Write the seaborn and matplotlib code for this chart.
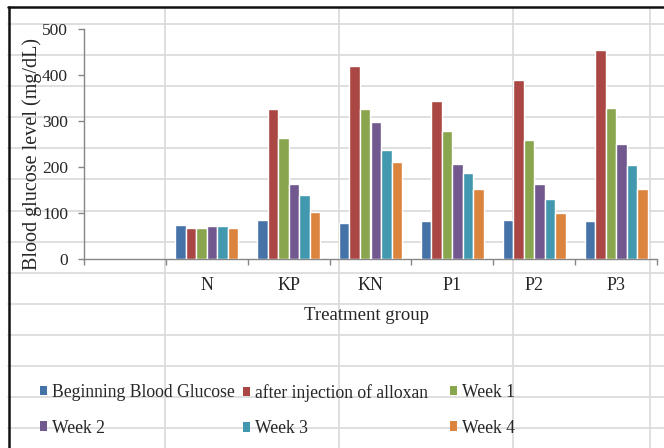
import numpy as np
import pandas as pd
import matplotlib
matplotlib.use("Agg")
import matplotlib.pyplot as plt
from matplotlib.lines import Line2D
from matplotlib.patches import Patch
import seaborn as sns

# ---- data ----
groups = ["N", "KP", "KN", "P1", "P2", "P3"]
series = ["Beginning Blood Glucose", "after injection of alloxan",
          "Week 1", "Week 2", "Week 3", "Week 4"]
beginning = [75, 85, 79, 82, 85, 82]
after_alloxan = [68, 325, 420, 343, 390, 454]
week1 = [68, 264, 325, 278, 258, 329]
week2 = [72, 164, 298, 207, 164, 251]
week3 = [72, 140, 238, 187, 130, 204]
week4 = [68, 103, 210, 153, 99, 153]
colors = ["#4572A7", "#AA4643", "#89A54E", "#71588F", "#4198AF", "#DB843D"]
y_ticks = [0, 100, 200, 300, 400, 500]

values = [beginning, after_alloxan, week1, week2, week3, week4]
rows = []
for s, vals in zip(series, values):
    for g, v in zip(groups, vals):
        rows.append({"group": g, "series": s, "value": v})
df = pd.DataFrame(rows)
order = [""] + groups

sns.set_style("white")
plt.rcParams["font.family"] = ["Liberation Serif", "DejaVu Serif"]

W, H = 664, 448
fig = plt.figure(figsize=(W / 100, H / 100), dpi=100)
fig.patch.set_facecolor("white")

# spreadsheet background grid
grid_c = "#D9D9D9"
for y in np.arange(24, 440, 31.1):
    fig.add_artist(Line2D([8 / W, 1], [1 - y / H, 1 - y / H], color=grid_c,
                          lw=1.2, zorder=-2, transform=fig.transFigure))
for x in [165, 339, 513, 650]:
    fig.add_artist(Line2D([x / W, x / W], [0, 1 - 8 / H], color=grid_c,
                          lw=1.2, zorder=-2, transform=fig.transFigure))
# black screenshot border (left and top)
fig.add_artist(Line2D([8.5 / W, 8.5 / W], [0, 1 - 7 / H], color="#111111",
                      lw=1.8, zorder=-1, transform=fig.transFigure))
fig.add_artist(Line2D([8 / W, 1], [1 - 7 / H, 1 - 7 / H], color="#111111",
                      lw=1.8, zorder=-1, transform=fig.transFigure))

ax_l, ax_r, ax_t, ax_b = 84, 657, 29, 259
ax = fig.add_axes([ax_l / W, 1 - ax_b / H, (ax_r - ax_l) / W, (ax_b - ax_t) / H])
ax.patch.set_alpha(0)

sns.barplot(data=df, x="group", y="value", hue="series", order=order,
            hue_order=series, palette=colors, width=0.77, gap=0,
            saturation=1, errorbar=None, legend=False, ax=ax, zorder=3)

ax.set_xlim(-0.5, 6.5)
ax.set_ylim(0, 500)
ax.set_yticks(y_ticks)
ax.set_yticklabels([str(t) for t in y_ticks], fontsize=12.5)

ax.set_xticks(np.arange(-0.5, 7, 1))
ax.set_xticklabels([])
ax.set_xticks(np.arange(7), minor=True)
ax.set_xticklabels(order, minor=True, fontsize=13)
ax.tick_params(axis="x", which="major", length=4, width=1, color="#868686",
               direction="out", bottom=True)
ax.tick_params(axis="x", which="minor", length=0, pad=13.3)
ax.tick_params(axis="y", length=4, width=1, color="#868686", direction="out",
               left=True, pad=7.5)

for side in ["top", "right"]:
    ax.spines[side].set_visible(False)
for side in ["left", "bottom"]:
    ax.spines[side].set_color("#868686")
    ax.spines[side].set_linewidth(1)

ax.set_xlabel("Treatment group", fontsize=13.5, va="center")
ax.xaxis.set_label_coords((367 - ax_l) / (ax_r - ax_l), (ax_b - 315) / (ax_b - ax_t))
ax.set_ylabel("Blood glucose level (mg/dL)", fontsize=14.5, va="center")
ax.yaxis.set_label_coords((32 - ax_l) / (ax_r - ax_l), (ax_b - 154) / (ax_b - ax_t))

# legend: three columns placed like the reference
col_x = [40, 243, 450]
for k in range(3):
    idx = [k, k + 3]
    handles = [Patch(facecolor=colors[i], edgecolor="none") for i in idx]
    labels = [series[i] for i in idx]
    fig.legend(handles, labels, loc="upper left",
               bbox_to_anchor=(col_x[k] / W, 1 - 384 / H),
               frameon=False, fontsize=12.7, handlelength=0.42,
               handleheight=0.45, handletextpad=0.25, labelspacing=1.05,
               borderpad=0, borderaxespad=0)

fig.savefig("out.png", dpi=100, facecolor="white")
